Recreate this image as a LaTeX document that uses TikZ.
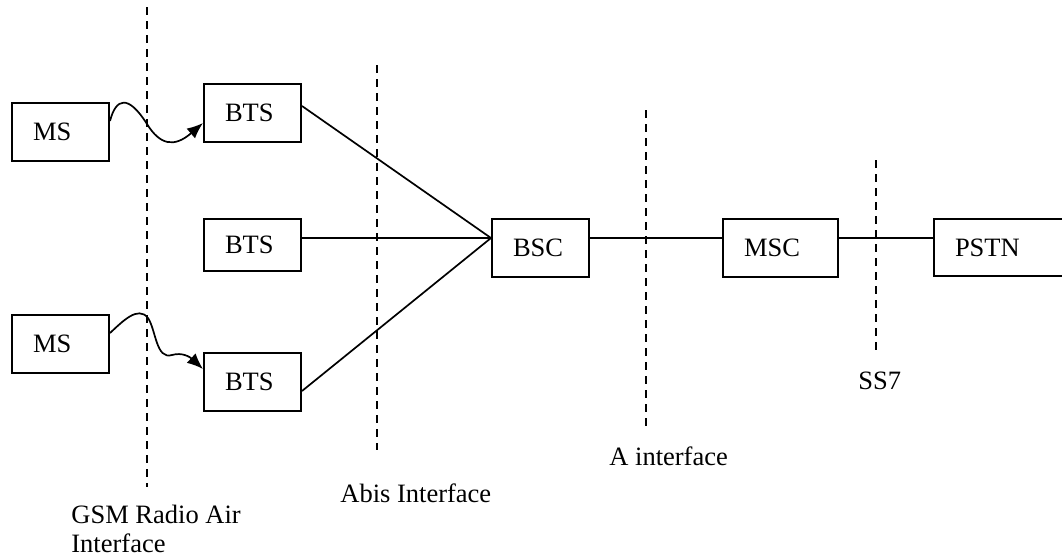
\documentclass[tikz,border=0pt]{standalone}
\usepackage{fontspec}
\setmainfont{Liberation Serif}
\usetikzlibrary{arrows.meta}
\begin{document}
\begin{tikzpicture}[x=0.5pt,y=-0.5pt,
  every node/.style={font=\fontsize{13.25pt}{14.5pt}\selectfont},
  netbox/.style={draw, line width=1pt, rectangle, inner xsep=10.5pt, inner ysep=0pt,
    minimum height=29pt, align=left, text width=#1},
  link/.style={line width=0.85pt},
  iface/.style={line width=0.9pt, dash pattern=on 4pt off 3pt},
  radio/.style={line width=0.85pt, -{Latex[length=8pt,width=6.5pt]}},
  lbl/.style={inner sep=0pt, anchor=base west}
]
\useasboundingbox (0,0) rectangle (1062,558);
\clip (0,0) rectangle (1062,558);

% interface lines
\coordinate (g1) at (147,7);   \coordinate (g2) at (147,487);
\coordinate (ab1) at (377,65); \coordinate (ab2) at (377,450);
\coordinate (a1) at (646,110); \coordinate (a2) at (646,427);
\coordinate (s1) at (876,160); \coordinate (s2) at (876,350);
\draw[iface] (g1) -- (g2);
\draw[iface] (ab1) -- (ab2);
\draw[iface] (a1) -- (a2);
\draw[iface] (s1) -- (s2);

% boxes
\node[netbox=27.5pt] (ms1) at (60.5,132) {MS};
\node[netbox=27.5pt] (bts1) at (252.5,113) {BTS};
\node[netbox=27.5pt, minimum height=26pt] (bts2) at (252.5,245) {BTS};
\node[netbox=27.5pt] (ms2) at (60.5,344) {MS};
\node[netbox=27.5pt] (bts3) at (252.5,382) {BTS};
\node[netbox=27.5pt] (bsc) at (540.5,248) {BSC};
\node[netbox=36.5pt] (msc) at (780.5,248) {MSC};
\node[netbox=54pt, minimum height=28.5pt] (pstn) at (1009,247.5) {PSTN};

% wired links
\draw[link] ([yshift=3.5pt]bts1.east) -- ([yshift=5pt]bsc.west);
\draw[link] ([yshift=3.5pt]bts2.east) -- ([yshift=5pt]bsc.west);
\draw[link] ([yshift=-4.5pt]bts3.east) -- ([yshift=5pt]bsc.west);
\draw[link] ([yshift=5pt]bsc.east) -- ([yshift=5pt]msc.west);
\draw[link] ([yshift=5pt]msc.east) -- ([yshift=4.75pt]pstn.west);

% radio links
\draw[radio] ([yshift=5.5pt]ms1.east) .. controls (116,98) and (128,94) .. (147,124)
  .. controls (160,145) and (174,148) .. ([yshift=-5pt]bts1.west);
\draw[radio] ([yshift=5.5pt]ms2.east) .. controls (122,322) and (138,305) .. (148,318)
  .. controls (156,330) and (156,360) .. (172,355)
  .. controls (182,352) and (190,357) .. ([yshift=6.5pt]bts3.west);

% labels
\node[inner sep=0pt, anchor=north west, align=left] (lgsm) at (71,505) {GSM Radio Air\\Interface};
\node[lbl] (labis) at (340,502) {Abis Interface};
\node[lbl] (la) at (609,465) {A interface};
\node[lbl] (lss7) at (858,389) {SS7};
\end{tikzpicture}
\end{document}
